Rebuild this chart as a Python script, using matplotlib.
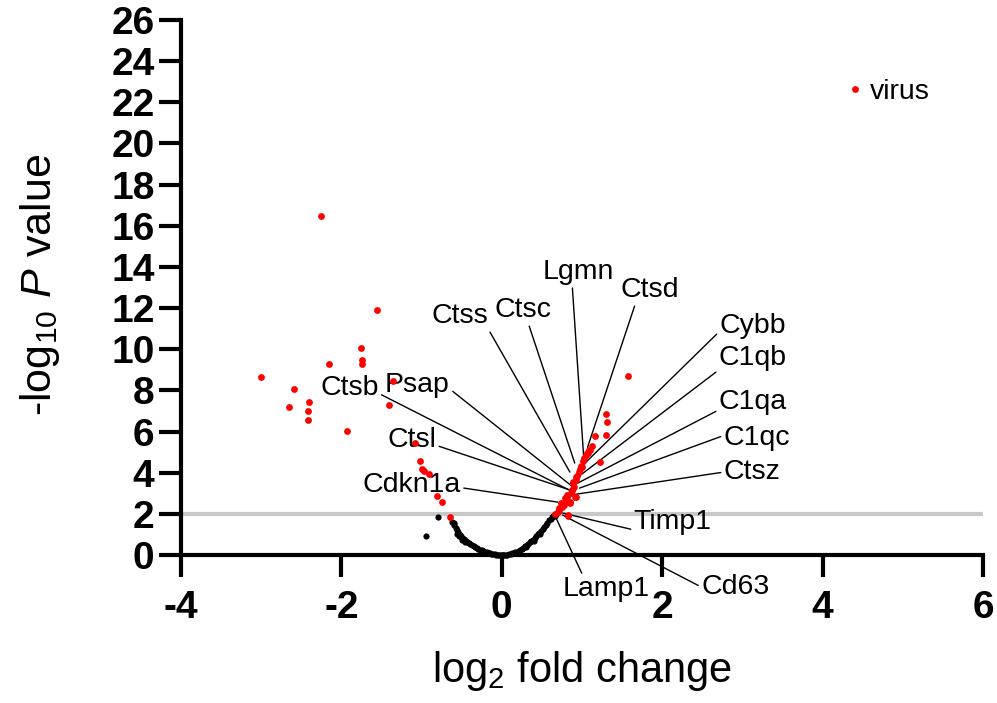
import matplotlib
matplotlib.use('Agg')
import matplotlib.pyplot as plt

plt.rcParams['font.family'] = ['Liberation Sans', 'DejaVu Sans']
plt.rcParams['mathtext.fontset'] = 'custom'
plt.rcParams['mathtext.rm'] = 'Liberation Sans'
plt.rcParams['mathtext.it'] = 'Liberation Sans:italic'
plt.rcParams['mathtext.bf'] = 'Liberation Sans:bold'
plt.rcParams['axes.unicode_minus'] = False

# ---------------- data ----------------
# significant (red) points: log2 fold change, -log10 P
sig_x = [-2.26, -1.56, -1.75, -1.74, -1.74, -2.15, -3.00, -2.59, -1.36, -2.40,
         -2.65, -2.41, -1.41, -2.41, -1.93, -1.08, -1.02, -0.99, -0.97, -0.91,
         -0.81, -0.75, -0.65,
         4.41, 1.58, 1.30, 1.31, 1.30, 1.16, 1.13, 1.09, 1.06, 1.22,
         1.01, 0.99, 0.97, 0.93, 0.89, 0.90, 0.88, 0.92, 0.81, 0.79,
         0.85, 0.74, 0.72, 0.70, 0.66, 0.83, 1.10, 1.07, 1.00, 0.94,
         0.89, 0.87, 0.91, 0.81, 0.79, 0.85, 0.75, 0.72, 0.82, 0.96,
         0.92, 0.86, 0.77, 1.03, 1.05]
sig_y = [16.49, 11.89, 10.05, 9.50, 9.30, 9.26, 8.64, 8.07, 8.45, 7.46,
         7.17, 7.00, 7.30, 6.54, 6.05, 5.42, 4.56, 4.20, 4.10, 3.92,
         2.86, 2.59, 1.86,
         22.67, 8.69, 6.83, 6.46, 5.81, 5.76, 5.31, 5.10, 4.97, 4.51,
         4.55, 4.32, 4.16, 3.77, 3.51, 3.32, 3.16, 2.83, 2.91, 2.75,
         2.54, 2.51, 2.27, 2.10, 1.97, 1.91, 5.10, 4.95, 4.27, 3.83,
         3.54, 3.16, 2.82, 2.82, 2.57, 2.57, 2.33, 2.18, 1.94, 4.05,
         3.65, 3.00, 2.45, 4.70, 4.85]

# non-significant (black) points
ns_x = [-0.94, -0.79, -0.62, -0.60, -0.59, -0.57, -0.56, -0.55, -0.53, -0.52,
        -0.51, -0.49, -0.48, -0.47, -0.45, -0.44, -0.43, -0.41, -0.39, -0.37,
        -0.35, -0.33, -0.31, -0.29, -0.27, -0.25, -0.23, -0.21, -0.19, -0.17,
        -0.15, -0.13, -0.11, -0.09, -0.07, -0.05, -0.03, -0.01, -0.56, -0.50,
        -0.46, -0.53,
        0.00, 0.01, 0.03, 0.05, 0.07, 0.09, 0.11, 0.13, 0.15, 0.17,
        0.19, 0.21, 0.23, 0.25, 0.27, 0.29, 0.31, 0.33, 0.35, 0.37,
        0.39, 0.41, 0.43, 0.45, 0.47, 0.49, 0.51, 0.53, 0.55, 0.57,
        0.59, 0.61, 0.63, 0.64, 0.66, 0.68, 0.40, 0.48, 0.30]
ns_y = [0.92, 1.84, 1.62, 1.55, 1.45, 1.30, 1.20, 1.12, 1.02, 0.96,
        0.92, 0.85, 0.80, 0.76, 0.70, 0.66, 0.63, 0.58, 0.53, 0.48,
        0.43, 0.38, 0.34, 0.30, 0.26, 0.22, 0.19, 0.16, 0.13, 0.10,
        0.08, 0.06, 0.04, 0.03, 0.02, 0.01, 0.005, 0.00, 1.00, 0.75,
        0.62, 0.90,
        0.00, 0.00, 0.005, 0.01, 0.02, 0.04, 0.06, 0.08, 0.10, 0.13,
        0.17, 0.21, 0.26, 0.31, 0.36, 0.42, 0.48, 0.54, 0.61, 0.68,
        0.75, 0.83, 0.91, 1.00, 1.09, 1.18, 1.28, 1.38, 1.48, 1.58,
        1.68, 1.76, 1.83, 1.88, 1.92, 1.97, 0.70, 1.00, 0.40]

# labelled genes and the points they refer to
genes = ['virus', 'Lgmn', 'Ctsd', 'Ctss', 'Ctsc', 'Cybb', 'C1qb', 'C1qa', 'C1qc',
         'Ctsz', 'Ctsb', 'Psap', 'Ctsl', 'Cdkn1a', 'Timp1', 'Cd63', 'Lamp1']
gene_x = [4.41, 1.02, 1.07, 0.85, 0.91, 0.95, 0.95, 0.95, 0.97,
          0.85, 0.89, 0.89, 0.85, 0.70, 0.76, 0.76, 0.66]
gene_y = [22.67, 4.85, 5.24, 4.03, 4.47, 4.13, 3.79, 3.50, 3.25,
          2.91, 3.06, 3.30, 3.16, 2.57, 2.04, 1.94, 1.94]

threshold = 2
x_ticks = [-4, -2, 0, 2, 4, 6]
y_ticks = [0, 2, 4, 6, 8, 10, 12, 14, 16, 18, 20, 22, 24, 26]

# ---------------- layout for labels (text centre, line anchor on text) ----------------
label_layout = {
    'virus':  ((4.59, 22.48), 'left',   None),
    'Lgmn':   ((0.95, 13.74), 'center', (0.42, 0.0)),
    'Ctsd':   ((1.85, 12.86), 'center', (0.25, 0.0)),
    'Ctss':   ((-0.52, 11.60), 'center', (1.0, 0.0)),
    'Ctsc':   ((0.26, 11.89), 'center', (0.6, 0.0)),
    'Cybb':   ((3.13, 11.12), 'center', (0.0, 0.3)),
    'C1qb':   ((3.13, 9.56), 'center', (0.0, 0.05)),
    'C1qa':   ((3.13, 7.43), 'center', (0.0, 0.2)),
    'C1qc':   ((3.18, 5.68), 'center', (0.0, 0.6)),
    'Ctsz':   ((3.12, 4.03), 'center', (0.0, 0.5)),
    'Ctsb':   ((-1.90, 8.11), 'center', (1.0, 0.3)),
    'Psap':   ((-1.05, 8.25), 'center', (1.0, 0.35)),
    'Ctsl':   ((-1.12, 5.58), 'center', (1.0, 0.3)),
    'Cdkn1a': ((-1.12, 3.40), 'center', (1.0, 0.4)),
    'Timp1':  ((2.13, 1.60), 'center', (0.0, 0.2)),
    'Cd63':   ((2.91, -1.55), 'center', (0.0, 0.5)),
    'Lamp1':  ((1.30, -1.65), 'center', (0.25, 0.9)),
}

fig = plt.figure(figsize=(9.97, 7.03), dpi=100)
ax = fig.add_axes([0.1815, 0.2105, 0.8044, 0.761])

ax.axhline(threshold, color='#c8c8c8', lw=3, zorder=1)
ax.scatter(ns_x, ns_y, s=20, c='black', lw=0, zorder=3, clip_on=False)
ax.scatter(sig_x, sig_y, s=24, c='#ff0000', lw=0, zorder=4, clip_on=False)

for g, gx, gy in zip(genes, gene_x, gene_y):
    (tx, ty), ha, rel = label_layout[g]
    if rel is None:
        ax.annotate(g, xy=(gx, gy), xytext=(tx, ty), textcoords='data',
                    ha=ha, va='center', fontsize=20.5, annotation_clip=False)
    else:
        ax.annotate(g, xy=(gx, gy), xytext=(tx, ty), textcoords='data',
                    ha=ha, va='center', fontsize=20.5, annotation_clip=False,
                    arrowprops=dict(arrowstyle='-', color='black', lw=1.0,
                                    shrinkA=0, shrinkB=0, relpos=rel))

ax.set_xlim(-4, 6)
ax.set_ylim(0, 26)
ax.spines['top'].set_visible(False)
ax.spines['right'].set_visible(False)
for s in ('left', 'bottom'):
    ax.spines[s].set_linewidth(3)
    ax.spines[s].set_zorder(2)

ax.set_xticks(x_ticks, labels=[str(v) for v in x_ticks], fontweight='bold')
ax.set_yticks(y_ticks, labels=[str(v) for v in y_ticks], fontweight='bold')
ax.tick_params(axis='both', direction='out', length=16, width=3, labelsize=28)
ax.tick_params(axis='x', pad=9)
ax.tick_params(axis='y', pad=3)

ax.set_xlabel('log$_2$ fold change', fontsize=30)
ax.set_ylabel('-log$_{10}$ $P$ value', fontsize=31)
ax.xaxis.set_label_coords(0.5, -0.175)
ax.yaxis.set_label_coords(-0.148, 0.505)

fig.savefig('out.png', dpi=100)
